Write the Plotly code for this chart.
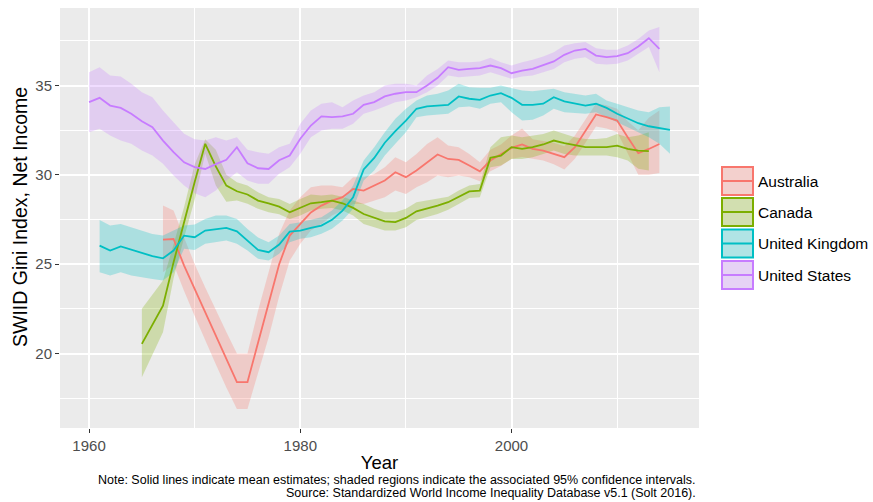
import plotly.graph_objects as go

# ---------------- data ----------------
countries = ["Australia", "Canada", "United Kingdom", "United States"]
line_colors = ["#F8766D", "#7CAE00", "#00BFC4", "#C77CFF"]
band_colors = ["rgba(248,118,109,0.27)", "rgba(124,174,0,0.27)",
               "rgba(0,191,196,0.27)", "rgba(199,124,255,0.27)"]

aus_years = list(range(1967, 2015))
aus_mean = [26.38, 26.41, 24.92, 23.62, 22.31, 21.0, 19.7, 18.4, 18.4, 20.63,
            22.9, 25.0, 26.6, 27.25, 27.9, 28.28, 28.56, 28.75, 29.21, 29.12,
            29.4, 29.68, 30.15, 29.87, 30.24, 30.71, 31.14, 30.89, 30.84, 30.52,
            30.2, 30.8, 31.17, 31.51, 31.7, 31.45, 31.36, 31.17, 30.99, 31.55,
            32.48, 33.38, 33.23, 33.04, 32.11, 31.21, 31.45, 31.73]
aus_lo = [24.55, 25.0, 23.5, 22.1, 20.7, 19.4, 18.1, 16.9, 16.9, 18.9,
          20.9, 23.2, 25.2, 26.14, 26.88, 27.25, 27.72, 28.0, 28.37, 28.37,
          28.56, 28.75, 29.12, 28.93, 29.31, 29.59, 29.96, 29.87, 29.96, 29.87,
          29.64, 30.2, 30.5, 30.9, 31.0, 30.9, 30.8, 30.6, 30.3, 30.9,
          31.8, 32.7, 32.6, 32.4, 31.2, 30.0, 30.0, 30.1]
aus_hi = [28.28, 28.0, 26.5, 25.0, 23.7, 22.4, 21.2, 20.0, 20.0, 22.4,
          24.5, 26.7, 28.0, 28.75, 29.31, 29.4, 29.4, 29.31, 29.87, 29.87,
          30.05, 30.43, 30.99, 30.71, 31.17, 31.73, 32.1, 31.64, 31.55, 31.17,
          30.71, 31.4, 31.7, 32.2, 32.6, 32.0, 31.9, 31.8, 31.6, 32.2,
          33.1, 34.0, 33.9, 33.7, 33.0, 32.5, 33.2, 33.6]

can_years = list(range(1965, 2014))
can_mean = [20.54, 21.6, 22.68, 25.1, 27.4, 29.6, 31.74, 30.47, 29.4, 29.08,
            28.9, 28.56, 28.4, 28.22, 27.9, 28.15, 28.41, 28.47, 28.56, 28.41,
            28.15, 27.81, 27.59, 27.4, 27.35, 27.59, 27.96, 28.1, 28.28, 28.47,
            28.79, 29.07, 29.12, 30.95, 31.08, 31.55, 31.45, 31.55, 31.7, 31.92,
            31.77, 31.64, 31.55, 31.55, 31.55, 31.64, 31.45, 31.36, 31.33]
can_lo = [18.67, 19.9, 21.19, 24.2, 26.5, 28.6, 31.2, 29.4, 28.5, 28.56,
          28.38, 28.1, 27.9, 27.8, 27.53, 27.72, 28.0, 28.1, 28.15, 28.0,
          27.72, 27.25, 27.07, 26.88, 26.88, 27.07, 27.48, 27.63, 27.81, 28.04,
          28.37, 28.7, 28.75, 30.43, 30.52, 30.89, 30.89, 30.99, 31.17, 31.36,
          31.17, 31.08, 31.08, 31.08, 31.08, 30.99, 30.8, 30.34, 30.24]
can_hi = [22.5, 23.3, 24.08, 26.1, 28.2, 30.6, 32.0, 31.4, 30.0, 29.59,
          29.4, 29.03, 28.75, 28.65, 28.37, 28.65, 28.9, 28.84, 28.9, 28.78,
          28.56, 28.37, 28.1, 27.9, 27.9, 28.1, 28.47, 28.56, 28.65, 28.78,
          29.12, 29.4, 29.49, 31.55, 32.1, 32.2, 32.1, 32.2, 32.29, 32.48,
          32.29, 32.1, 32.01, 32.01, 32.07, 32.29, 32.1, 32.2, 32.39]

uk_years = list(range(1961, 2016))
uk_mean = [26.04, 25.76, 25.99, 25.8, 25.63, 25.45, 25.33, 25.76, 26.6, 26.51,
           26.88, 26.97, 27.03, 26.84, 26.32, 25.8, 25.67, 26.1, 26.82, 26.88,
           27.03, 27.16, 27.48, 28.0, 28.75, 30.3, 30.95, 31.8, 32.45, 33.04,
           33.7, 33.83, 33.88, 33.92, 34.39, 34.26, 34.2, 34.44, 34.57, 34.31,
           33.92, 33.92, 33.98, 34.35, 34.11, 34.01, 33.88, 33.98, 33.75, 33.42,
           33.14, 32.89, 32.72, 32.61, 32.52]
uk_lo = [24.55, 24.36, 24.55, 24.36, 24.27, 24.17, 24.08, 24.55, 25.86, 25.8,
         26.14, 26.23, 26.32, 26.14, 25.76, 25.3, 25.2, 25.58, 26.23, 26.42,
         26.51, 26.7, 26.98, 27.44, 28.1, 29.68, 30.24, 31.08, 31.74, 32.39,
         33.23, 33.32, 33.38, 33.42, 33.79, 33.83, 33.7, 33.98, 34.07, 33.51,
         33.04, 33.08, 33.32, 33.7, 33.51, 33.45, 33.42, 33.51, 33.23, 32.95,
         32.67, 32.39, 32.11, 31.74, 31.18]
uk_hi = [27.48, 27.16, 27.25, 27.07, 26.88, 26.69, 26.6, 26.9, 27.16, 27.22,
         27.53, 27.72, 27.72, 27.53, 26.97, 26.5, 26.23, 26.6, 27.25, 27.35,
         27.48, 27.63, 28.0, 28.56, 29.4, 30.8, 31.55, 32.39, 33.14, 33.7,
         34.16, 34.44, 34.54, 34.72, 35.1, 34.91, 34.87, 34.87, 35.0, 34.87,
         34.72, 34.68, 34.76, 34.82, 34.63, 34.54, 34.44, 34.54, 34.16, 33.98,
         33.79, 33.6, 33.51, 33.79, 33.83]

us_years = list(range(1960, 2015))
us_mean = [34.07, 34.31, 33.88, 33.75, 33.42, 33.0, 32.67, 31.92, 31.27, 30.7,
           30.43, 30.33, 30.6, 30.84, 31.55, 30.65, 30.37, 30.33, 30.82, 31.08,
           32.02, 32.76, 33.27, 33.23, 33.27, 33.42, 33.92, 34.07, 34.39, 34.54,
           34.63, 34.63, 35.0, 35.43, 36.03, 35.88, 35.93, 35.97, 36.12, 35.97,
           35.69, 35.84, 35.93, 36.12, 36.35, 36.72, 36.96, 37.05, 36.68, 36.59,
           36.64, 36.81, 37.19, 37.65, 37.05]
us_lo = [32.39, 32.58, 32.2, 31.92, 31.74, 31.36, 31.08, 30.62, 29.96, 29.4,
         28.97, 28.75, 29.12, 29.68, 30.15, 29.68, 29.5, 29.5, 30.06, 30.43,
         31.18, 32.11, 32.48, 32.58, 32.58, 32.86, 33.42, 33.6, 33.83, 34.07,
         34.16, 34.35, 34.63, 35.0, 35.56, 35.47, 35.5, 35.56, 35.75, 35.56,
         35.38, 35.51, 35.56, 35.75, 35.93, 36.31, 36.5, 36.59, 36.22, 36.18,
         36.22, 36.4, 36.78, 37.15, 35.75]
us_hi = [35.75, 36.03, 35.56, 35.5, 35.1, 34.63, 34.35, 33.6, 32.95, 32.3,
         32.0, 31.92, 32.1, 31.92, 32.1, 31.4, 31.27, 31.18, 31.55, 31.74,
         32.86, 33.6, 33.98, 34.07, 33.79, 34.16, 34.44, 34.63, 35.0, 35.1,
         35.1, 35.0, 35.56, 35.93, 36.4, 36.31, 36.31, 36.35, 36.55, 36.31,
         36.12, 36.31, 36.44, 36.63, 36.87, 37.24, 37.37, 37.43, 37.09, 37.0,
         37.0, 37.24, 37.61, 38.08, 38.27]

x_ticks = [1960, 1980, 2000]
y_ticks = [20, 25, 30, 35]
x_title = "Year"
y_title = "SWIID Gini Index, Net Income"
note_lines = [
    "Note: Solid lines indicate mean estimates; shaded regions indicate the associated 95% confidence intervals.",
    "Source: Standardized World Income Inequality Database v5.1 (Solt 2016).",
]

series = [
    (aus_years, aus_mean, aus_lo, aus_hi),
    (can_years, can_mean, can_lo, can_hi),
    (uk_years, uk_mean, uk_lo, uk_hi),
    (us_years, us_mean, us_lo, us_hi),
]

# ---------------- figure ----------------
W, H = 873, 502
L, R, T, B = 60, 174, 8, 74
PW, PH = W - L - R, H - T - B


def px_x(p):
    return (p - L) / PW


def px_y(p):
    return (H - B - p) / PH


fig = go.Figure()

# ribbons first
for (yrs, m, lo, hi), name, bc in zip(series, countries, band_colors):
    fig.add_trace(go.Scatter(
        x=yrs + yrs[::-1], y=hi + lo[::-1], fill="toself", fillcolor=bc,
        line=dict(width=0), mode="lines", hoverinfo="skip", showlegend=False))

# lines on top
for (yrs, m, lo, hi), name, lc in zip(series, countries, line_colors):
    fig.add_trace(go.Scatter(
        x=yrs, y=m, mode="lines", name=name,
        line=dict(color=lc, width=1.8), showlegend=False))

# manual ggplot-style legend
shapes = []
annotations = []
centers = [181, 212, 243.5, 275]
for name, lc, bc, cy in zip(countries, line_colors, band_colors, centers):
    x0, x1 = px_x(722), px_x(753)
    y0, y1 = px_y(cy + 14), px_y(cy - 14)
    shapes.append(dict(type="rect", xref="paper", yref="paper",
                       x0=x0, x1=x1, y0=y0, y1=y1,
                       fillcolor="#F2F2F2", line=dict(width=0), layer="above"))
    shapes.append(dict(type="rect", xref="paper", yref="paper",
                       x0=x0, x1=x1, y0=y0, y1=y1,
                       fillcolor=bc, line=dict(color=lc, width=2), layer="above"))
    shapes.append(dict(type="line", xref="paper", yref="paper",
                       x0=x0, x1=x1, y0=px_y(cy), y1=px_y(cy),
                       line=dict(color=lc, width=2), layer="above"))
    annotations.append(dict(text=name, xref="paper", yref="paper",
                            x=px_x(756), y=px_y(cy), xanchor="left",
                            yanchor="middle", showarrow=False,
                            font=dict(size=15.5, color="#000000")))

for txt, py in zip(note_lines, [480, 493]):
    annotations.append(dict(text=txt, xref="paper", yref="paper",
                            x=px_x(698), y=px_y(py), xanchor="right",
                            yanchor="middle", showarrow=False,
                            font=dict(size=12.5, color="#000000")))

# y-axis title as rotated text
annotations.append(dict(text=y_title, xref="paper", yref="paper",
                        x=px_x(20), y=px_y(217), xanchor="center",
                        yanchor="middle", textangle=-90, showarrow=False,
                        font=dict(size=19.5, color="#000000")))

fig.update_layout(
    width=W, height=H,
    margin=dict(l=L, r=R, t=T, b=B, pad=0),
    paper_bgcolor="white", plot_bgcolor="#EBEBEB",
    font=dict(family="Liberation Sans, Arial, sans-serif"),
    showlegend=False,
    shapes=shapes, annotations=annotations,
    xaxis=dict(
        range=[1957.25, 2017.75], tickvals=x_ticks, ticktext=[str(v) for v in x_ticks],
        showgrid=True, gridcolor="white", gridwidth=1.8,
        minor=dict(dtick=10, tick0=1950, showgrid=True, gridcolor="white",
                   gridwidth=0.8, ticks=""),
        ticks="outside", ticklen=4, tickwidth=1.2, tickcolor="#333333",
        tickfont=dict(size=15, color="#4D4D4D"),
        zeroline=False, showline=False, automargin=False,
        title=dict(text=x_title, font=dict(size=18.5, color="#000000"), standoff=3),
    ),
    yaxis=dict(
        range=[15.83, 39.34], tickvals=y_ticks, ticktext=[str(v) for v in y_ticks],
        showgrid=True, gridcolor="white", gridwidth=1.8,
        minor=dict(dtick=2.5, tick0=15, showgrid=True, gridcolor="white",
                   gridwidth=0.8, ticks=""),
        ticks="outside", ticklen=4, tickwidth=1.2, tickcolor="#333333",
        tickfont=dict(size=15, color="#4D4D4D"),
        zeroline=False, showline=False, automargin=False,
    ),
)

fig.write_html("out.html", config={"displayModeBar": False},
               post_script="document.body.style.margin='0px';")
